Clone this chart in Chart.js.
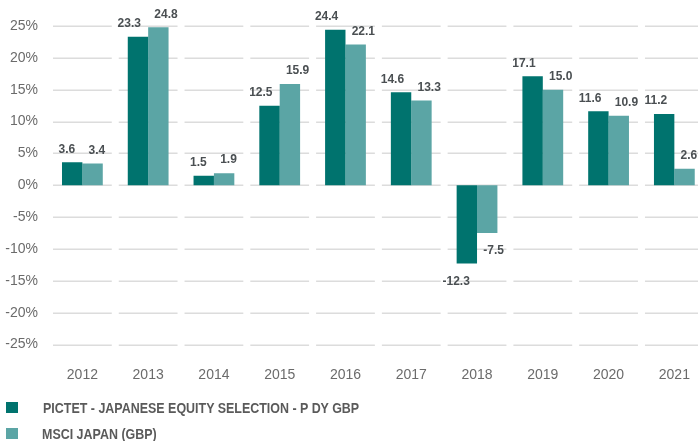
<!DOCTYPE html>
<html>
<head>
<meta charset="utf-8">
<script src="https://cdn.jsdelivr.net/npm/chart.js@4/dist/chart.umd.min.js"></script>
<style>
  html, body { margin: 0; padding: 0; background: #fff; overflow: hidden; }
  #wrap { position: relative; width: 712px; height: 441px; }
  .legend { position: absolute; left: 0; font-family: "Liberation Sans", Arial, sans-serif; font-weight: bold; font-size: 14px; color: #5a5a5a; }
  .legend span.box { position: absolute; left: 6px; width: 12px; height: 11px; }
  .legend span.txt { position: absolute; left: 43px; white-space: nowrap; line-height: 14px; transform: scaleX(0.89); transform-origin: left center; }
</style>
</head>
<body>
<div id="wrap">
  <canvas id="chart"></canvas>
  <div class="legend" style="top:402px"><span class="box" style="background:#00736e"></span><span class="txt" style="top:-1px">PICTET - JAPANESE EQUITY SELECTION - P DY GBP</span></div>
  <div class="legend" style="top:428px"><span class="box" style="background:#5ba5a5"></span><span class="txt" style="top:-1px;left:42px">MSCI JAPAN (GBP)</span></div>
</div>
<script>
const years = ["2012", "2013", "2014", "2015", "2016", "2017", "2018", "2019", "2020", "2021"];
const fundValues = [3.6, 23.3, 1.5, 12.5, 24.4, 14.6, -12.3, 17.1, 11.6, 11.2];
const indexValues = [3.4, 24.8, 1.9, 15.9, 22.1, 13.3, -7.5, 15.0, 10.9, 2.6];

const darkTeal = "#00736e";
const lightTeal = "#5ba5a5";

// gridlines split per category, with a small gap at each boundary
const splitGrid = {
  id: "splitGrid",
  beforeDatasetsDraw(chart) {
    const { ctx, scales } = chart;
    const x = scales.x, y = scales.y;
    const half = (x.getPixelForValue(1) - x.getPixelForValue(0)) / 2;
    ctx.save();
    ctx.strokeStyle = "#dcdcdc";
    ctx.lineWidth = 1.5;
    y.ticks.forEach((t) => {
      const py = Math.round(y.getPixelForValue(t.value)) + 0.25;
      years.forEach((_, i) => {
        const cx = x.getPixelForValue(i);
        ctx.beginPath();
        ctx.moveTo(cx - half + 3.5, py);
        ctx.lineTo(cx + half - 3.5, py);
        ctx.stroke();
      });
    });
    ctx.restore();
  },
};

// value labels above / below each bar
const valueLabels = {
  id: "valueLabels",
  afterDatasetsDraw(chart) {
    const { ctx } = chart;
    ctx.save();
    ctx.font = "bold 12px 'Liberation Sans', Arial, sans-serif";
    ctx.fillStyle = "#4a4f52";
    ctx.textBaseline = "middle";
    chart.data.datasets.forEach((ds, di) => {
      const meta = chart.getDatasetMeta(di);
      meta.data.forEach((bar, i) => {
        const v = ds.data[i];
        const ty = v >= 0 ? bar.y - 13 : bar.y + 18;
        if (di === 0) {
          ctx.textAlign = "right";
          ctx.fillText(v.toFixed(1), bar.x + 3, ty);
        } else {
          ctx.textAlign = "left";
          ctx.fillText(v.toFixed(1), bar.x - 4, ty);
        }
      });
    });
    ctx.restore();
  },
};

new Chart(document.getElementById("chart"), {
  type: "bar",
  data: {
    labels: years,
    datasets: [
      {
        label: "PICTET - JAPANESE EQUITY SELECTION - P DY GBP",
        data: fundValues,
        backgroundColor: darkTeal,
        categoryPercentage: 0.62,
        barPercentage: 1.0,
      },
      {
        label: "MSCI JAPAN (GBP)",
        data: indexValues,
        backgroundColor: lightTeal,
        categoryPercentage: 0.62,
        barPercentage: 1.0,
      },
    ],
  },
  options: {
    responsive: true,
    maintainAspectRatio: false,
    animation: false,
    layout: { padding: { top: 26, bottom: 56.5, left: 5, right: 1.5 } },
    plugins: {
      legend: { display: false },
      tooltip: { enabled: false },
    },
    scales: {
      x: {
        grid: { display: false, drawTicks: false },
        border: { display: false },
        afterFit: (scale) => { scale.height = 40; },
        ticks: {
          color: "#6b6b6b",
          padding: 22,
          font: { family: "'Liberation Sans', Arial, sans-serif", size: 14 },
        },
      },
      y: {
        min: -25,
        max: 25,
        grid: { display: false, drawTicks: false },
        border: { display: false },
        afterFit: (scale) => { scale.width = 44.5; },
        ticks: {
          stepSize: 5,
          color: "#6b6b6b",
          padding: 11.5,
          font: { family: "'Liberation Sans', Arial, sans-serif", size: 14 },
          callback: (v) => v + "%",
        },
      },
    },
  },
  plugins: [splitGrid, valueLabels],
});
</script>
</body>
</html>
